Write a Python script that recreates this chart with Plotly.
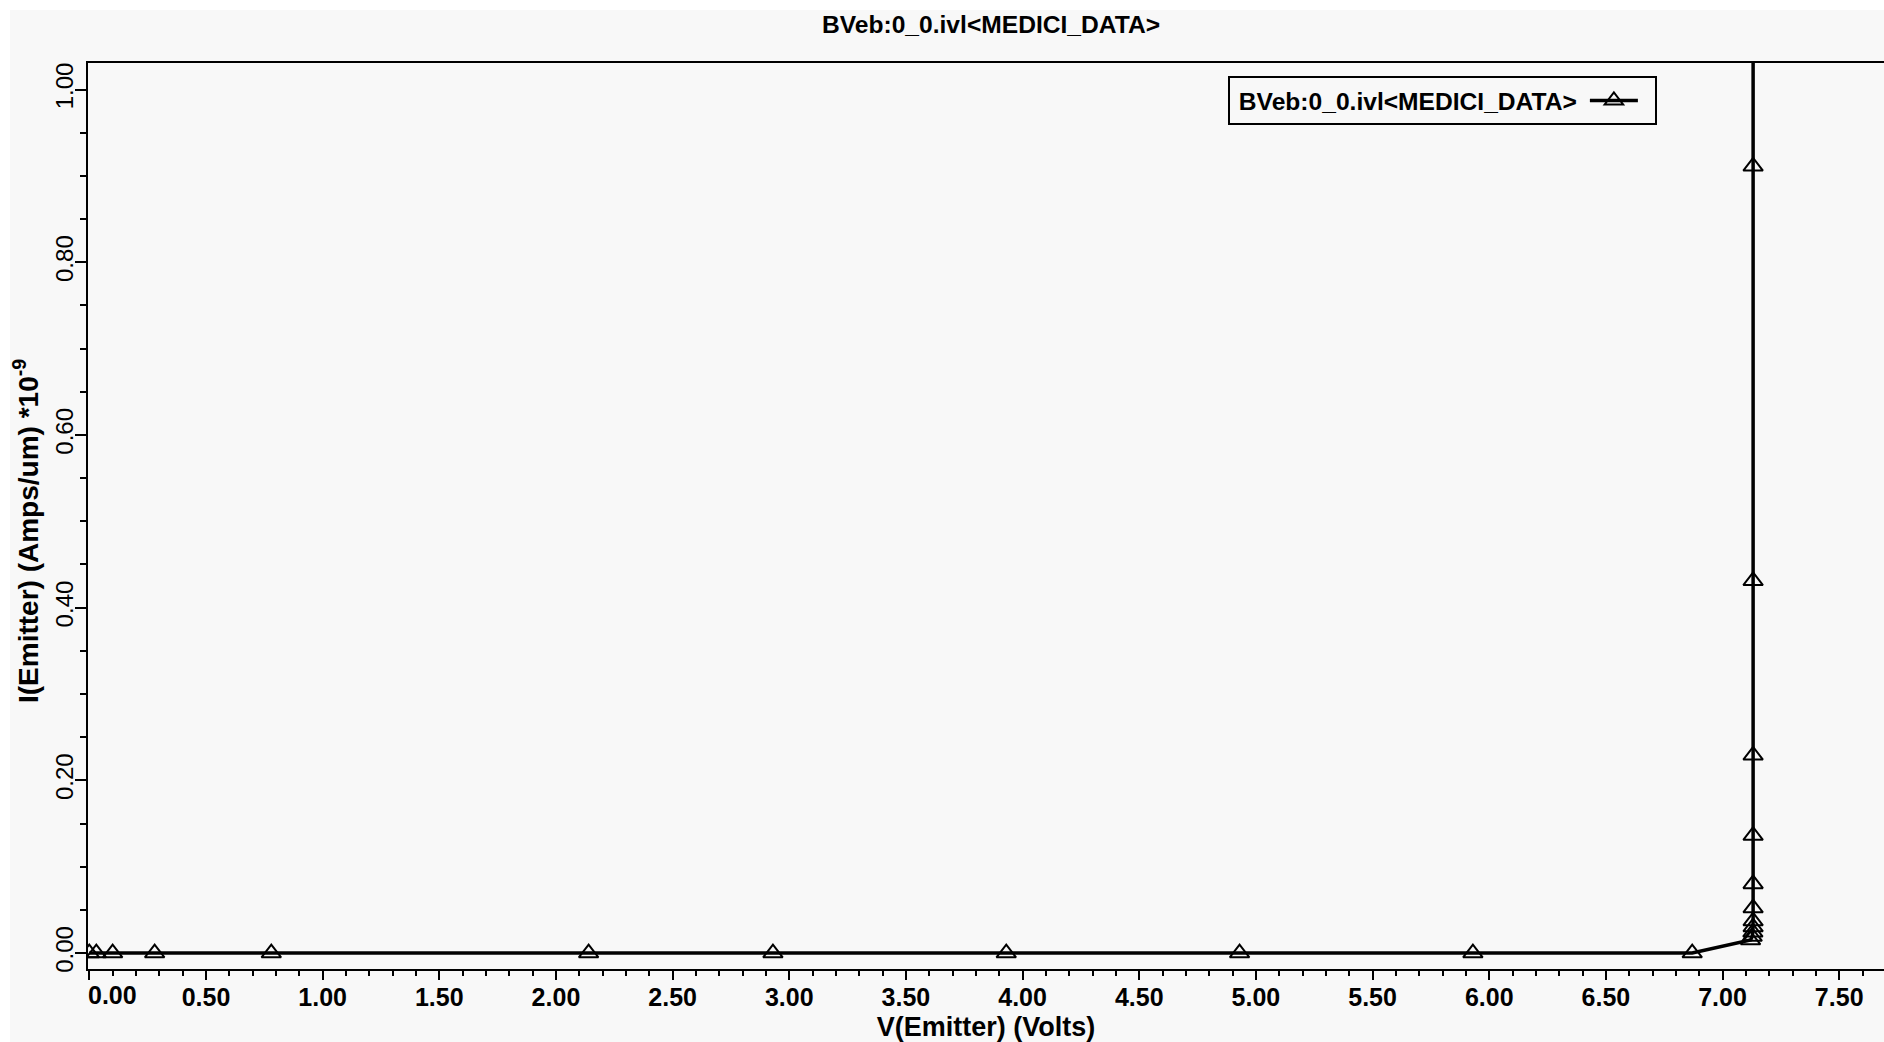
import plotly.graph_objects as go

# ---- data ----
series_name = "BVeb:0_0.ivl<MEDICI_DATA>"
v_emitter = [0.0, 0.03, 0.10, 0.28, 0.78, 2.14, 2.93, 3.93, 4.93, 5.93, 6.87,
             7.12, 7.127, 7.13, 7.131, 7.131, 7.131, 7.131, 7.131, 7.131,
             7.131, 7.131, 7.131]
i_emitter = [0.0, 0.0, 0.0, 0.0, 0.0, 0.0, 0.0, 0.0, 0.0, 0.0, 0.0,
             0.015, 0.019, 0.024, 0.030, 0.037, 0.052, 0.080, 0.136, 0.229,
             0.431, 0.911, 1.90]

x_tick_vals = [0.0, 0.5, 1.0, 1.5, 2.0, 2.5, 3.0, 3.5, 4.0, 4.5, 5.0, 5.5, 6.0, 6.5, 7.0, 7.5]
x_tick_text = ["", "0.50", "1.00", "1.50", "2.00", "2.50", "3.00", "3.50", "4.00",
               "4.50", "5.00", "5.50", "6.00", "6.50", "7.00", "7.50"]
y_tick_vals = [0.0, 0.2, 0.4, 0.6, 0.8, 1.0]
y_tick_text = ["0.00", "0.20", "0.40", "0.60", "0.80", "1.00"]

title_text = "BVeb:0_0.ivl&lt;MEDICI_DATA&gt;"
x_title = "V(Emitter) (Volts)"
y_title = "I(Emitter) (Amps/um) *10<sup>-9</sup>"

FONT = "Liberation Sans, Arial, Helvetica, sans-serif"
BG = "#f8f8f8"

W, H = 1884, 1042
ML, MR, MT, MB = 88, 0, 63, 73
PW, PH = W - ML - MR, H - MT - MB

fig = go.Figure()
fig.add_trace(go.Scatter(
    x=v_emitter, y=i_emitter, name=" ",
    mode="lines+markers",
    line=dict(color="black", width=3.5),
    marker=dict(symbol="triangle-up-open", size=17, color="black",
                line=dict(width=2, color="black")),
    cliponaxis=True,
))

fig.update_layout(
    width=W, height=H,
    margin=dict(l=ML, r=MR, t=MT, b=MB, pad=0),
    paper_bgcolor=BG, plot_bgcolor=BG,
    font=dict(family=FONT, color="black", size=24),
    title=dict(text=title_text, x=991 / W, xref="container", xanchor="center",
               y=1 - 24 / H, yref="container", yanchor="middle",
               font=dict(family=FONT, size=24.6, weight="bold", color="black")),
    showlegend=True,
    legend=dict(
        title=dict(text="&nbsp;" + title_text, side="left",
                   font=dict(family=FONT, size=24.6, weight="bold", color="black")),
        font=dict(family=FONT, size=24.6, color="black"),
        x=(1228 - ML) / PW, y=1 - (76 - MT) / PH,
        xanchor="left", yanchor="top",
        bordercolor="black", borderwidth=2, bgcolor=BG,
        itemwidth=48,
    ),
    xaxis=dict(
        range=[-0.0056, 7.692],
        tickmode="array", tickvals=x_tick_vals, ticktext=x_tick_text,
        ticks="outside", ticklen=9, tickwidth=2, tickcolor="black",
        ticklabelstandoff=-4,
        tickfont=dict(family=FONT, size=25, weight="bold", color="black"),
        minor=dict(dtick=0.1, tick0=0, ticks="outside", ticklen=5,
                   tickwidth=2, tickcolor="black", showgrid=False),
        showline=True, linecolor="black", linewidth=2, mirror=True,
        showgrid=False, zeroline=False,
        title=dict(text=x_title, standoff=8,
                   font=dict(family=FONT, size=27, weight="bold", color="black")),
    ),
    yaxis=dict(
        range=[-0.0185, 1.0307],
        tickmode="array", tickvals=y_tick_vals, ticktext=y_tick_text,
        tickangle=-90,
        ticks="outside", ticklen=11, tickwidth=2, tickcolor="black",
        ticklabelstandoff=-8,
        tickfont=dict(family=FONT, size=24, color="black"),
        minor=dict(dtick=0.05, tick0=0, ticks="outside", ticklen=6,
                   tickwidth=2, tickcolor="black", showgrid=False),
        showline=True, linecolor="black", linewidth=2, mirror=False,
        showgrid=False, zeroline=False,
    ),
    annotations=[
        dict(text="0.00", x=0, xref="x", xanchor="left", xshift=-3,
             y=0, yref="paper", yanchor="middle", yshift=-26,
             showarrow=False,
             font=dict(family=FONT, size=25, weight="bold", color="black")),
        dict(text=y_title, textangle=-90,
             x=(26 - ML) / PW, xref="paper", xanchor="center",
             y=1 - (531 - MT) / PH, yref="paper", yanchor="middle",
             showarrow=False,
             font=dict(family=FONT, size=28, weight="bold", color="black")),
    ],
    shapes=[
        dict(type="rect", xref="paper", yref="paper", layer="above",
             x0=-ML / PW, x1=1.0, y0=1 + (MT - 10) / PH, y1=1 + MT / PH,
             fillcolor="white", line=dict(width=0)),
        dict(type="rect", xref="paper", yref="paper", layer="above",
             x0=-ML / PW, x1=(10 - ML) / PW, y0=-MB / PH, y1=1 + MT / PH,
             fillcolor="white", line=dict(width=0)),
    ],
)

fig.write_html("out.html", config={"displayModeBar": False},
               post_script="document.body.style.margin='0';document.body.style.overflow='hidden';")
